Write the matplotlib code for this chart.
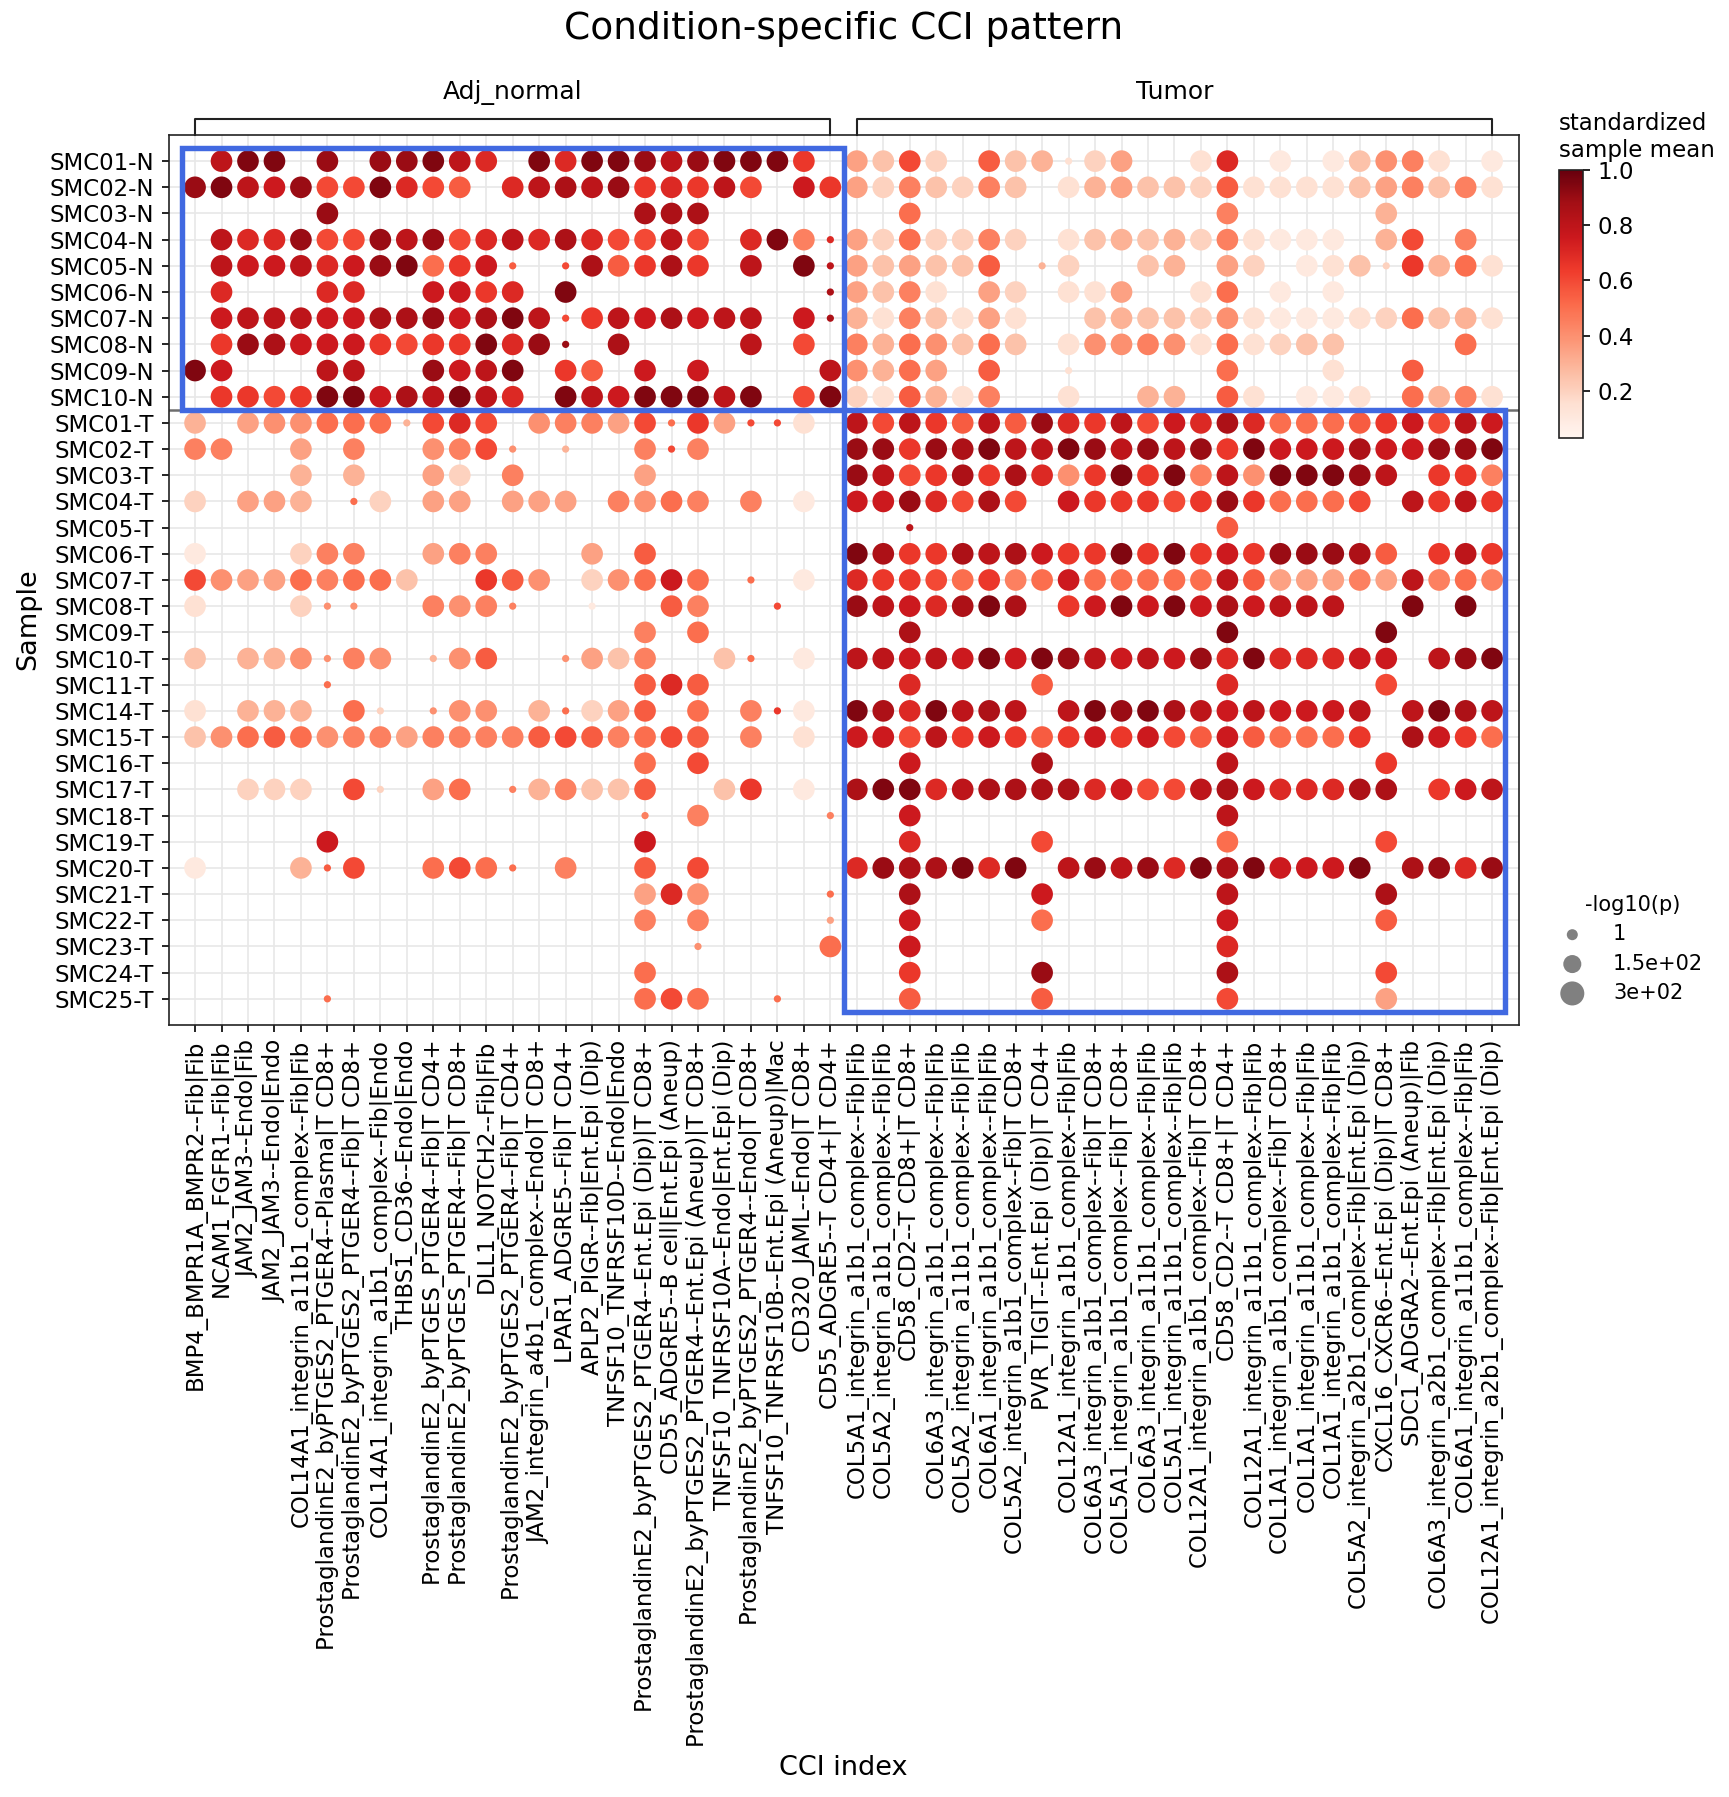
import matplotlib
matplotlib.use("Agg")
import matplotlib.pyplot as plt
from matplotlib.patches import Rectangle

# samples (rows)
normal_samples = ["SMC01-N", "SMC02-N", "SMC03-N", "SMC04-N", "SMC05-N",
                  "SMC06-N", "SMC07-N", "SMC08-N", "SMC09-N", "SMC10-N"]
tumor_samples = ["SMC01-T", "SMC02-T", "SMC03-T", "SMC04-T", "SMC05-T", "SMC06-T",
                 "SMC07-T", "SMC08-T", "SMC09-T", "SMC10-T", "SMC11-T", "SMC14-T",
                 "SMC15-T", "SMC16-T", "SMC17-T", "SMC18-T", "SMC19-T", "SMC20-T",
                 "SMC21-T", "SMC22-T", "SMC23-T", "SMC24-T", "SMC25-T"]

# CCI (columns)
cci_normal = [
    "BMP4_BMPR1A_BMPR2--Fib|Fib",
    "NCAM1_FGFR1--Fib|Fib",
    "JAM2_JAM3--Endo|Fib",
    "JAM2_JAM3--Endo|Endo",
    "COL14A1_integrin_a11b1_complex--Fib|Fib",
    "ProstaglandinE2_byPTGES2_PTGER4--Plasma|T CD8+",
    "ProstaglandinE2_byPTGES2_PTGER4--Fib|T CD8+",
    "COL14A1_integrin_a1b1_complex--Fib|Endo",
    "THBS1_CD36--Endo|Endo",
    "ProstaglandinE2_byPTGES_PTGER4--Fib|T CD4+",
    "ProstaglandinE2_byPTGES_PTGER4--Fib|T CD8+",
    "DLL1_NOTCH2--Fib|Fib",
    "ProstaglandinE2_byPTGES2_PTGER4--Fib|T CD4+",
    "JAM2_integrin_a4b1_complex--Endo|T CD8+",
    "LPAR1_ADGRE5--Fib|T CD4+",
    "APLP2_PIGR--Fib|Ent.Epi (Dip)",
    "TNFSF10_TNFRSF10D--Endo|Endo",
    "ProstaglandinE2_byPTGES2_PTGER4--Ent.Epi (Dip)|T CD8+",
    "CD55_ADGRE5--B cell|Ent.Epi (Aneup)",
    "ProstaglandinE2_byPTGES2_PTGER4--Ent.Epi (Aneup)|T CD8+",
    "TNFSF10_TNFRSF10A--Endo|Ent.Epi (Dip)",
    "ProstaglandinE2_byPTGES2_PTGER4--Endo|T CD8+",
    "TNFSF10_TNFRSF10B--Ent.Epi (Aneup)|Mac",
    "CD320_JAML--Endo|T CD8+",
    "CD55_ADGRE5--T CD4+|T CD4+",
]
cci_tumor = [
    "COL5A1_integrin_a1b1_complex--Fib|Fib",
    "COL5A2_integrin_a1b1_complex--Fib|Fib",
    "CD58_CD2--T CD8+|T CD8+",
    "COL6A3_integrin_a1b1_complex--Fib|Fib",
    "COL5A2_integrin_a11b1_complex--Fib|Fib",
    "COL6A1_integrin_a1b1_complex--Fib|Fib",
    "COL5A2_integrin_a1b1_complex--Fib|T CD8+",
    "PVR_TIGIT--Ent.Epi (Dip)|T CD4+",
    "COL12A1_integrin_a1b1_complex--Fib|Fib",
    "COL6A3_integrin_a1b1_complex--Fib|T CD8+",
    "COL5A1_integrin_a1b1_complex--Fib|T CD8+",
    "COL6A3_integrin_a11b1_complex--Fib|Fib",
    "COL5A1_integrin_a11b1_complex--Fib|Fib",
    "COL12A1_integrin_a1b1_complex--Fib|T CD8+",
    "CD58_CD2--T CD8+|T CD4+",
    "COL12A1_integrin_a11b1_complex--Fib|Fib",
    "COL1A1_integrin_a1b1_complex--Fib|T CD8+",
    "COL1A1_integrin_a11b1_complex--Fib|Fib",
    "COL1A1_integrin_a1b1_complex--Fib|Fib",
    "COL5A2_integrin_a2b1_complex--Fib|Ent.Epi (Dip)",
    "CXCL16_CXCR6--Ent.Epi (Dip)|T CD8+",
    "SDC1_ADGRA2--Ent.Epi (Aneup)|Fib",
    "COL6A3_integrin_a2b1_complex--Fib|Ent.Epi (Dip)",
    "COL6A1_integrin_a11b1_complex--Fib|Fib",
    "COL12A1_integrin_a2b1_complex--Fib|Ent.Epi (Dip)",
]

# standardized sample mean x100 per cell ('.' = no dot, trailing 's' = small -log10(p))
# left of '|' : Adj_normal CCIs, right of '|' : Tumor CCIs
normal_rows = [
    ". 80 95 95 .  90 . 90 90 95  80 70 . 95 70  95 95 90 80 90  95 95 95 65 . | 35 25 60 20 .  55 25 30 15s 20  35 . . 15 70  . 10 . 10 25  40 45 15 . 10",
    "90 95 80 75 90  60 60 95 70 60  55 . 70 80 85  80 90 65 70 65  80 60 . 75 65 | 35 20 45 25 20  45 25 . 15 30  35 25 25 20 55  15 15 15 15 25  35 45 25 45 15",
    ". . . . .  90 . . . .  . . . . .  . . 85 85 85  . . . . . | . . 50 . .  . . . . .  . . . . 45  . . . . .  30 . . . .",
    ". 80 70 70 90  60 60 90 80 90  60 70 80 70 85  70 60 60 80 60  . 70 95 45 70s | 35 20 50 20 20  45 20 . 15 25  30 25 30 20 45  15 10 10 10 .  30 60 . 45 .",
    ". 80 75 75 80  70 75 90 95 50  65 75 55s . 60s  85 55 65 85 65  . 80 . 95 80s | 35 25 35 25 25  55 . 30s 20 .  . 25 30 . 35  20 . 10 15 25  20s 65 30 50 15",
    ". 70 . . .  70 70 . . 75  75 65 70 . 95  . . . . .  . . . . 85s | 35 25 45 15 .  35 20 . 15 15  35 . . 15 50  . 10 . 10 .  . . . . .",
    ". 75 80 80 80  75 75 85 85 90  75 85 95 80 60s  65 80 75 85 75  80 80 . 75 85s | 30 15 45 25 15  35 15 . . 25  30 25 25 20 40  15 10 10 10 15  20 50 25 30 15",
    ". 65 90 85 75  75 75 65 60 65  65 95 70 90 90s  . 85 . . .  . 80 . 60 . | 45 30 50 40 25  50 25 . 15 40  40 45 40 15 50  15 20 25 25 .  . . . 50 .",
    "95 75 . . .  80 80 . . 90  75 80 95 . 65  55 . 75 . 75  . . . . 80 | 40 30 50 35 .  55 . . 15s .  . . . . 50  . . . 15 .  . 55 . . .",
    ". 65 65 60 65  95 95 75 85 80  95 80 70 . 95  80 75 95 95 95  80 95 . 60 95 | 20 15 55 30 15  45 . . 15 .  . 30 30 . 55  15 . 10 10 15  . 50 30 45 15",
]
tumor_rows = [
    "30 . 35 40 40  50 50 50 30s 60  70 60 . 40 45  45 35 60 50s 65  35 60s 60s 15 . | 80 60 80 65 55  80 55 90 70 65  80 60 75 70 85  70 50 50 50 55  65 75 60 80 75",
    "45 45 . . 35  . 45 . . 40  45 60 40s . 30s  . . 45 60s 45  . . . . . | 90 90 65 90 85  95 80 80 95 90  80 90 80 90 65  95 75 75 75 85  75 75 90 90 95",
    ". . . . 30  . 30 . . 35  20 . 45 . .  . . 35 . .  . . . . . | 90 80 60 65 85  65 85 70 40 65  95 65 95 45 80  40 95 95 95 90  80 . 65 65 45",
    "20 . 35 35 30  . 50s 20 . 35  35 . 35 35 35  . 45 40 50 45  . 45 . 10 . | 75 75 90 70 60  85 60 . 75 65  65 65 60 65 90  65 50 50 50 60  . 80 65 80 65",
    ". . . . .  . . . . .  . . . . .  . . . . .  . . . . . | . . 80s . .  . . . . .  . . . . 55  . . . . .  . . . . .",
    "10 . . . 20  45 45 . . 35  45 45 . . .  35 . 55 . .  . . . . . | 95 85 65 65 85  80 85 75 65 65  95 65 95 65 75  65 90 90 90 85  55 . 65 80 65",
    "60 40 35 35 50  45 50 50 25 .  . 65 55 40 .  20 40 50 75 50  . 50s . 10 . | 70 65 65 60 50  65 45 50 75 50  50 50 50 50 80  55 35 35 35 45  35 80 45 50 45",
    "15 . . . 20  40s 40s . . 45  40 45 45s . .  10s . . 55 45  . . 60s . . | 90 80 75 70 85  95 85 . 65 75  95 75 95 75 85  75 80 80 80 .  . 95 . 95 .",
    ". . . . .  . . . . .  . . . . .  . . 45 . 50  . . . . . | . . 85 . .  . . . . .  . . . . 95  . . . . .  95 . . . .",
    "25 . 30 30 40  40s 45 40 . 30s  40 55 . . 40s  35 25 45 . .  25 50s . 10 . | 80 80 75 80 75  95 75 95 90 80  75 80 75 90 70  95 70 70 70 75  75 . 80 90 95",
    ". . . . .  50s . . . .  . . . . .  . . 55 70 55  . . . . . | . . 70 . .  . . 55 . .  . . . . 70  . . . . .  60 . . . .",
    "15 . 30 30 30  . 50 20s . 40s  40 40 . 30 50s  20 35 55 . 50  . 45 65s 10 . | 95 85 70 95 80  85 80 . 80 95  90 95 85 80 75  80 75 75 75 80  . 80 95 85 80",
    "25 40 50 55 50  40 45 45 35 45  45 45 45 55 60  55 45 50 60 55  . 45 . 15 . | 75 75 60 80 65  75 65 55 65 75  65 75 60 55 75  55 50 50 50 65  . 85 75 65 50",
    ". . . . .  . . . . .  . . . . .  . . 50 . 60  . . . . . | . . 75 . .  . . 85 . .  . . . . 80  . . . . .  65 . . . .",
    ". . 20 20 20  . 60 20s . 35  50 . 45s 30 45  25 25 55 . .  25 65 . 10 . | 85 95 95 70 80  85 85 85 85 70  75 60 60 80 85  75 70 70 70 85  85 . 65 75 80",
    ". . . . .  . . . . .  . . . . .  . . 45s . 45  . . . . 45s | . . 75 . .  . . . . .  . . . . 80  . . . . .  . . . . .",
    ". . . . .  75 . . . .  . . . . .  . . 75 . .  . . . . . | . . 70 . .  . . 60 . .  . . . . 50  . . . . .  60 . . . .",
    "10 . . . 30  55s 60 . . 50  60 50 50s . 45  . . 55 . 60  . . . . . | 70 90 85 85 95  70 95 . 80 90  80 90 70 95 85  95 75 75 75 95  . 85 90 70 90",
    ". . . . .  . . . . .  . . . . .  . . 35 70 40  . . . . 50s | . . 85 . .  . . 75 . .  . . . . 80  . . . . .  85 . . . .",
    ". . . . .  . . . . .  . . . . .  . . 45 . 45  . . . . 35s | . . 75 . .  . . 50 . .  . . . . 75  . . . . .  55 . . . .",
    ". . . . .  . . . . .  . . . . .  . . . . 40s  . . . . 50 | . . 75 . .  . . . . .  . . . . 70  . . . . .  . . . . .",
    ". . . . .  . . . . .  . . . . .  . . 50 . .  . . . . . | . . 65 . .  . . 90 . .  . . . . 85  . . . . .  60 . . . .",
    ". . . . .  50s . . . .  . . . . .  . . 50 60 50  . . 50s . . | . . 55 . .  . . 55 . .  . . . . 60  . . . . .  35 . . . .",
]

samples = normal_samples + tumor_samples
ccis = cci_normal + cci_tumor
rows = normal_rows + tumor_rows

xs, ys, vals, sizes = [], [], [], []
for i, r in enumerate(rows):
    toks = r.replace("|", " ").split()
    assert len(toks) == len(ccis), (samples[i], len(toks))
    for j, t in enumerate(toks):
        if t == ".":
            continue
        xs.append(j)
        ys.append(i)
        vals.append(int(t.rstrip("s")) / 100)
        sizes.append(12 if t.endswith("s") else 108)

#%% plotting
fig = plt.figure(figsize=(1729 / 150, 1797 / 150), dpi=150)
ax = fig.add_axes([0.0975, 0.4296, 0.7808, 0.4953])

sc = ax.scatter(xs, ys, c=vals, s=sizes, cmap="Reds", vmin=0.03, vmax=1.0,
                edgecolors="none", zorder=3)
ax.set_xlim(-1, len(ccis))
ax.set_ylim(len(samples), -1)
ax.set_xticks(range(len(ccis)))
ax.set_xticklabels(ccis, rotation=90, fontsize=11)
ax.set_yticks(range(len(samples)))
ax.set_yticklabels(samples, fontsize=11)
ax.grid(color="#e8e8e8", lw=0.8)
ax.set_axisbelow(True)
for s in ax.spines.values():
    s.set_color("#222222")

nN, nT = len(normal_samples), len(tumor_samples)
cN, cT = len(cci_normal), len(cci_tumor)
ax.axhline(nN - 0.5, color="#6e6e6e", lw=1.2, zorder=2.5)
ax.add_patch(Rectangle((-0.5, -0.5), cN, nN, fill=False, ec="#4169e1", lw=2.6, zorder=5))
ax.add_patch(Rectangle((cN - 0.5, nN - 0.5), cT, nT, fill=False, ec="#4169e1", lw=2.6, zorder=5))

# group brackets
trans = ax.get_xaxis_transform()
for a, b, lab in [(0, cN - 1, "Adj_normal"), (cN, cN + cT - 1, "Tumor")]:
    ax.plot([a, a, b, b], [1.0, 1.018, 1.018, 1.0], transform=trans,
            color="#222222", lw=1.0, clip_on=False)
    ax.text((a + b) / 2, 1.048, lab, transform=trans, ha="center", va="center", fontsize=12)

ax.set_xlabel("CCI index", fontsize=13)
ax.set_ylabel("Sample", fontsize=13)
ax.yaxis.set_label_coords(-0.094, 0.456)
fig.text(0.4877, 0.984, "Condition-specific CCI pattern", ha="center", va="center", fontsize=18)

# colorbar
cax = fig.add_axes([0.9017, 0.7563, 0.0139, 0.1491])
cb = fig.colorbar(sc, cax=cax)
cb.set_ticks([0.2, 0.4, 0.6, 0.8, 1.0])
cb.ax.tick_params(labelsize=11)
cb.outline.set_edgecolor("#222222")
cax.text(0, 1.03, "standardized\nsample mean", transform=cax.transAxes,
         ha="left", va="bottom", fontsize=11)

# size legend
leg_sizes = [28, 75, 133]
leg_labels = ["1", "1.5e+02", "3e+02"]
handles = [ax.scatter([], [], s=s, color="gray", edgecolors="none") for s in leg_sizes]
fig.legend(handles, leg_labels, title="-log10(p)", loc="upper left",
           bbox_to_anchor=(0.8925, 0.5125), frameon=False, fontsize=10,
           title_fontsize=10, labelspacing=0.45, handlelength=1.0,
           handletextpad=1.45)

plt.savefig("out.png", dpi=150)
